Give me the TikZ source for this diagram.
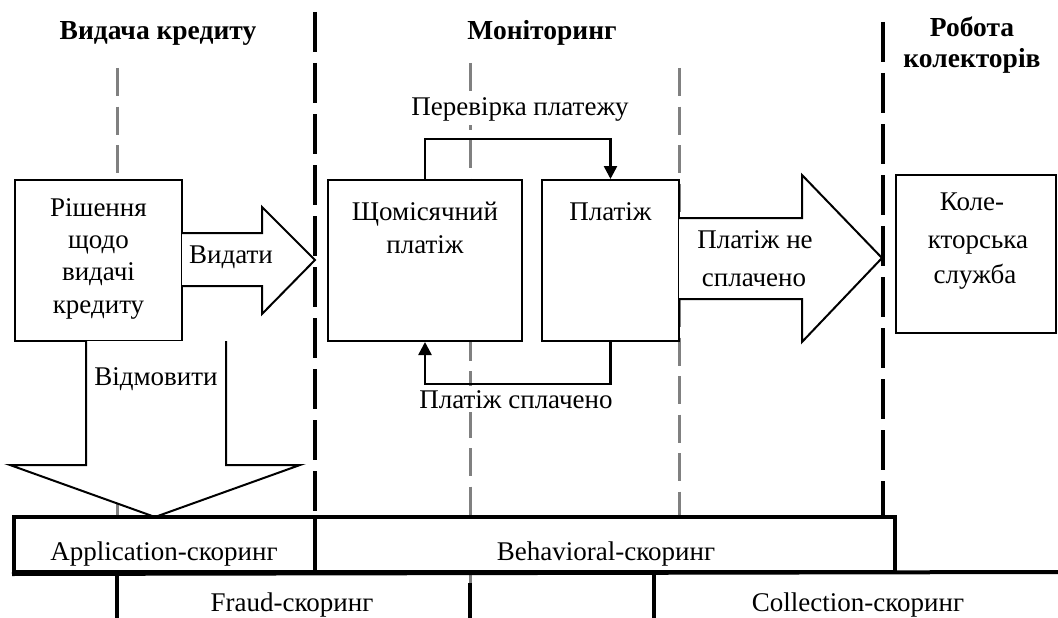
\documentclass[tikz,border=0pt]{standalone}
\usepackage{fontspec}
\setmainfont{Liberation Serif}
\usetikzlibrary{arrows.meta}
\begin{document}
\begin{tikzpicture}[x=1pt,y=-1pt,
 txt/.style={font=\fontsize{27}{32}\selectfont, inner sep=0pt, anchor=base},
 ttl/.style={font=\fontsize{27.5}{31}\selectfont\bfseries, inner sep=0pt, anchor=base},
 bg/.style={fill=white, inner xsep=3pt, inner ysep=4pt},
 boxn/.style={draw, line width=2pt, fill=white, inner sep=0pt},
 rowbox/.style={draw, line width=4pt, inner sep=0pt},
 grayline/.style={draw=black!50, line width=3pt, dash pattern=on 28pt off 10.5pt},
 sepline/.style={draw=black, line width=4.5pt, dash pattern=on 40pt off 11pt},
 blk/.style={draw, line width=2pt, fill=white, line join=miter},
 conn/.style={draw, line width=2.5pt, -{Triangle[width=13pt,length=13pt]}},
 rowline/.style={draw, line width=4pt}
]
\useasboundingbox (0,0) rectangle (1058,618);
\fill[white] (0,0) rectangle (1058,618);

% guide lines
\draw[grayline] (117,68) -- (117,517);
\draw[grayline] (470,63) -- (470,600);
\draw[grayline] (679,68) -- (679,517);
\draw[sepline] (315,12) -- (315,515);
\draw[sepline] (883,22) -- (883,515);

% titles
\node[ttl] (t1) at (158,40) {Видача кредиту};
\node[ttl] (t2) at (542,40) {Моніторинг};
\node[ttl] (t3a) at (972,37) {Робота};
\node[ttl] (t3b) at (972,68) {колекторів};

% boxes
\node[boxn, minimum width=167pt, minimum height=161pt] (dec) at (98.5,260.5) {};
\node[boxn, minimum width=194pt, minimum height=161pt] (mon) at (425,260.5) {};
\node[boxn, minimum width=137pt, minimum height=161pt] (pay) at (610.5,260.5) {};
\node[boxn, minimum width=160pt, minimum height=158pt] (col) at (976,254) {};

\node[txt] (d1) at (98.5,216) {Рішення};
\node[txt] (d2) at (98.5,248) {щодо};
\node[txt] (d3) at (98.5,280) {видачі};
\node[txt] (d4) at (98.5,313) {кредиту};

\node[txt] (m1) at (425,220) {Щомісячний};
\node[txt] (m2) at (425,253) {платіж};
\node[txt] (p1) at (610.5,220) {Платіж};

\node[txt] (c1) at (972,210) {Коле-};
\node[txt] (c2) at (978,248) {кторська};
\node[txt] (c3) at (975,283) {служба};

% block arrows
\draw[blk] (182,233) -- (262,233) -- (262,207) -- (315,260) -- (262,314) -- (262,286) -- (182,286);
\node[txt] (give) at (231,263) {Видати};

\draw[blk] (86,341) -- (86,465) -- (10,465) -- (155,517) -- (300,465) -- (226,465) -- (226,341);
\node[txt] (refuse) at (156,385) {Відмовити};

\draw[blk] (679,218) -- (802,218) -- (802,175) -- (882,258) -- (802,342) -- (802,299) -- (679,299);
\node[txt] (np1) at (755,248) {Платіж не};
\node[txt] (np2) at (754,286) {сплачено};

% connectors
\draw[conn] (mon.north) -- ++(0,-40) -| (pay.north);
\draw[conn] (pay.south) -- ++(0,42) -| (mon.south);
\node[txt, bg] (chk) at (520,115) {Перевірка платежу};
\node[txt, bg] (paid) at (516,408) {Платіж сплачено};

% scoring row
\node[rowbox, fill=white, minimum width=301pt, minimum height=55pt] (app) at (164.5,544.5) {};
\node[rowbox, fill=white, minimum width=580pt, minimum height=55pt] (beh) at (605,544.5) {};
\node[txt] (appt) at (164,560) {Application-скоринг};
\node[txt] (beht) at (606,560) {Behavioral-скоринг};
\draw[rowline] (app.south west) -- (1058,572);
\draw[rowline] (117,572) -- (117,618);
\draw[rowline] (470,583) -- (470,618);
\draw[rowline] (654,572) -- (654,618);
\node[txt] (fr) at (292,611) {Fraud-скоринг};
\node[txt] (cl) at (858,611) {Collection-скоринг};
\end{tikzpicture}
\end{document}
